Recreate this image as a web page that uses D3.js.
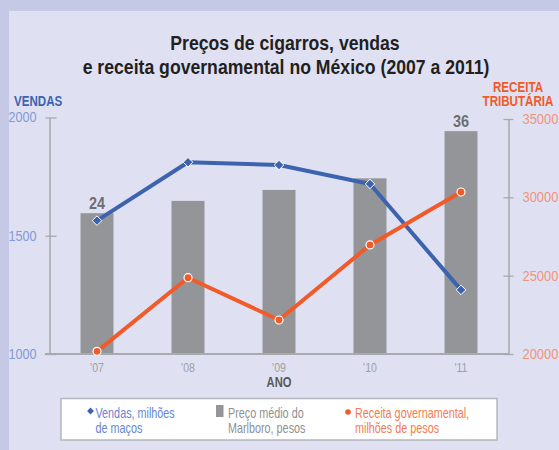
<!DOCTYPE html>
<html>
<head>
<meta charset="utf-8">
<script src="https://cdn.jsdelivr.net/npm/d3@7"></script>
<style>
  body { margin: 0; background: #c6c9e6; }
  svg { display: block; }
  text { font-family: "Liberation Sans", Arial, sans-serif; }
</style>
</head>
<body>
<svg id="chart" width="559" height="450"></svg>
<script>
// data
let years = ["'07", "'08", "'09", "'10", "'11"];
let vendas = [1564, 1811, 1799, 1719, 1271];          // milhões de maços
let preco = [24, 25.8, 27.4, 29.1, 36];                // pesos
let receita = [20170, 24870, 22170, 26960, 30340];     // milhões de pesos
let vendasTicks = [1000, 1500, 2000];
let receitaTicks = [20000, 25000, 30000, 35000];
let precoLabels = [0, 4];   // bars that carry a value label

// no condensed font installed, so squeeze the text horizontally
function narrow(sel, k) {
  sel.each(function () {
    let len = this.getComputedTextLength();
    this.setAttribute("textLength", len * k);
    this.setAttribute("lengthAdjust", "spacingAndGlyphs");
  });
}

let svg = d3.select("#chart");

// panel
svg.append("rect").attr("width", 559).attr("height", 450).attr("fill", "#c6c9e6");
svg.append("rect").attr("x", 9).attr("y", 11).attr("width", 550).attr("height", 439).attr("fill", "#dfe1f2");

let x = d3.scaleBand().domain(years).range([51.5, 506.5]);
let yV = d3.scaleLinear().domain([1000, 2000]).range([354, 117.5]);
let yR = d3.scaleLinear().domain([20000, 35000]).range([354, 119]);
let yP = d3.scaleLinear().domain([3.4, 38]).range([354, 117.5]);
let cx = d => x(d) + x.bandwidth() / 2;

// title
let title = svg.append("text").attr("text-anchor", "middle")
  .attr("font-size", 20.5).attr("font-weight", "bold").attr("fill", "#231f20");
title.append("tspan").attr("x", 285).attr("y", 50).text("Preços de cigarros, vendas");
title.append("tspan").attr("x", 286).attr("y", 74).text("e receita governamental no México (2007 a 2011)");
narrow(title.selectAll("tspan"), 0.86);

// bars
let barW = 33;
svg.append("g").selectAll("rect").data(preco).enter().append("rect")
  .attr("x", (d, i) => cx(years[i]) - barW / 2)
  .attr("y", d => yP(d))
  .attr("width", barW)
  .attr("height", d => yP.range()[0] - yP(d))
  .attr("fill", "#939598");

let barText = svg.append("g").selectAll("text").data(precoLabels).enter().append("text")
  .attr("x", i => cx(years[i]))
  .attr("y", i => yP(preco[i]) - 4)
  .attr("text-anchor", "middle").attr("font-size", 16).attr("font-weight", "bold")
  .attr("fill", "#6d6e71")
  .text(i => preco[i]);
narrow(barText, 0.9);

// left axis
let left = svg.append("g").attr("transform", "translate(49.5,0)")
  .call(d3.axisLeft(yV).tickValues(vendasTicks).tickFormat(d3.format("d")).tickSizeOuter(0).tickPadding(7));
left.select(".domain").attr("stroke", "#a7a9ac").attr("stroke-width", 1.5);
left.selectAll(".tick line").attr("x1", -4).attr("x2", 7).attr("stroke", "#a7a9ac").attr("stroke-width", 1.3);
left.selectAll(".tick text").attr("font-size", 14).attr("fill", "#7f9ad6")
  .attr("font-family", "'Liberation Sans', sans-serif");
narrow(left.selectAll(".tick text"), 0.9);

// right axis
let right = svg.append("g").attr("transform", "translate(508.5,0)")
  .call(d3.axisRight(yR).tickValues(receitaTicks).tickFormat(d3.format("d")).tickSizeOuter(0).tickPadding(8));
right.select(".domain").attr("stroke", "#a7a9ac").attr("stroke-width", 1.5);
right.selectAll(".tick line").attr("x1", -5).attr("x2", 5).attr("stroke", "#a7a9ac").attr("stroke-width", 1.3);
right.selectAll(".tick text").attr("font-size", 14.5).attr("fill", "#f0947a")
  .attr("font-family", "'Liberation Sans', sans-serif");
narrow(right.selectAll(".tick text"), 0.89);

// bottom axis
let bottom = svg.append("g").attr("transform", "translate(0,354)")
  .call(d3.axisBottom(x).tickSize(0).tickPadding(9));
bottom.select(".domain").remove();
bottom.append("line").attr("x1", 45).attr("x2", 510).attr("stroke", "#a7a9ac").attr("stroke-width", 2);
bottom.selectAll(".tick text").attr("font-size", 12).attr("fill", "#9d9fa2")
  .attr("font-family", "'Liberation Sans', sans-serif");
narrow(bottom.selectAll(".tick text"), 0.88);

let ano = svg.append("text").attr("x", 279).attr("y", 387).attr("text-anchor", "middle")
  .attr("font-size", 14).attr("font-weight", "bold").attr("fill", "#58595b").text("ANO");
narrow(ano, 0.8);

// axis titles
let vt = svg.append("text").attr("x", 14).attr("y", 106).attr("font-size", 14.5).attr("font-weight", "bold")
  .attr("fill", "#3b64b0").text("VENDAS");
narrow(vt, 0.8);
let rt = svg.append("text").attr("text-anchor", "middle").attr("font-size", 14.5)
  .attr("font-weight", "bold").attr("fill", "#f05a28");
rt.append("tspan").attr("x", 518).attr("y", 92).text("RECEITA");
rt.append("tspan").attr("x", 518).attr("y", 106).text("TRIBUTÁRIA");
narrow(rt.selectAll("tspan"), 0.8);

// vendas line
let lineV = d3.line().x((d, i) => cx(years[i])).y(d => yV(d));
svg.append("path").datum(vendas).attr("d", lineV).attr("fill", "none")
  .attr("stroke", "#3d63ae").attr("stroke-width", 4).attr("stroke-linejoin", "round");
svg.append("g").selectAll("path").data(vendas).enter().append("path")
  .attr("d", d3.symbol(d3.symbolDiamond2, 58))
  .attr("transform", (d, i) => "translate(" + cx(years[i]) + "," + yV(d) + ")")
  .attr("fill", "#3d63ae").attr("stroke", "#fff").attr("stroke-width", 1);

// receita line
let lineR = d3.line().x((d, i) => cx(years[i])).y(d => yR(d));
svg.append("path").datum(receita).attr("d", lineR).attr("fill", "none")
  .attr("stroke", "#f15a29").attr("stroke-width", 4).attr("stroke-linejoin", "round");
svg.append("g").selectAll("circle").data(receita).enter().append("circle")
  .attr("cx", (d, i) => cx(years[i])).attr("cy", d => yR(d)).attr("r", 4)
  .attr("fill", "#f15a29").attr("stroke", "#fff").attr("stroke-width", 1.2);

// legend
svg.append("rect").attr("x", 61).attr("y", 398.5).attr("width", 436).attr("height", 41.5)
  .attr("fill", "#fff").attr("stroke", "#b5b7bb").attr("stroke-width", 1.5);

let legend = [
  { x: 95.5, color: "#6585cf", lines: ["Vendas, milhões", "de maços"], mark: "diamond" },
  { x: 228, color: "#8f9194", lines: ["Preço médio do", "Marlboro, pesos"], mark: "square" },
  { x: 355, color: "#f37b52", lines: ["Receita governamental,", "milhões de pesos"], mark: "dot" }
];
let item = svg.append("g").selectAll("g").data(legend).enter().append("g");
let legendText = item.append("text").attr("font-size", 15).attr("fill", d => d.color)
  .selectAll("tspan").data(d => d.lines.map(l => ({ x: d.x, t: l }))).enter().append("tspan")
  .attr("x", d => d.x).attr("y", (d, i) => 418 + i * 14.5).text(d => d.t);
narrow(legendText, 0.72);
item.filter(d => d.mark == "diamond").append("path")
  .attr("d", d3.symbol(d3.symbolDiamond2, 30))
  .attr("transform", d => "translate(" + (d.x - 5) + ",411)").attr("fill", "#3d63ae");
item.filter(d => d.mark == "square").append("rect")
  .attr("x", d => d.x - 12).attr("y", 405).attr("width", 7.5).attr("height", 12).attr("fill", "#939598");
item.filter(d => d.mark == "dot").append("circle")
  .attr("cx", d => d.x - 7).attr("cy", 412).attr("r", 2.8).attr("fill", "#f15a29");
</script>
</body>
</html>
